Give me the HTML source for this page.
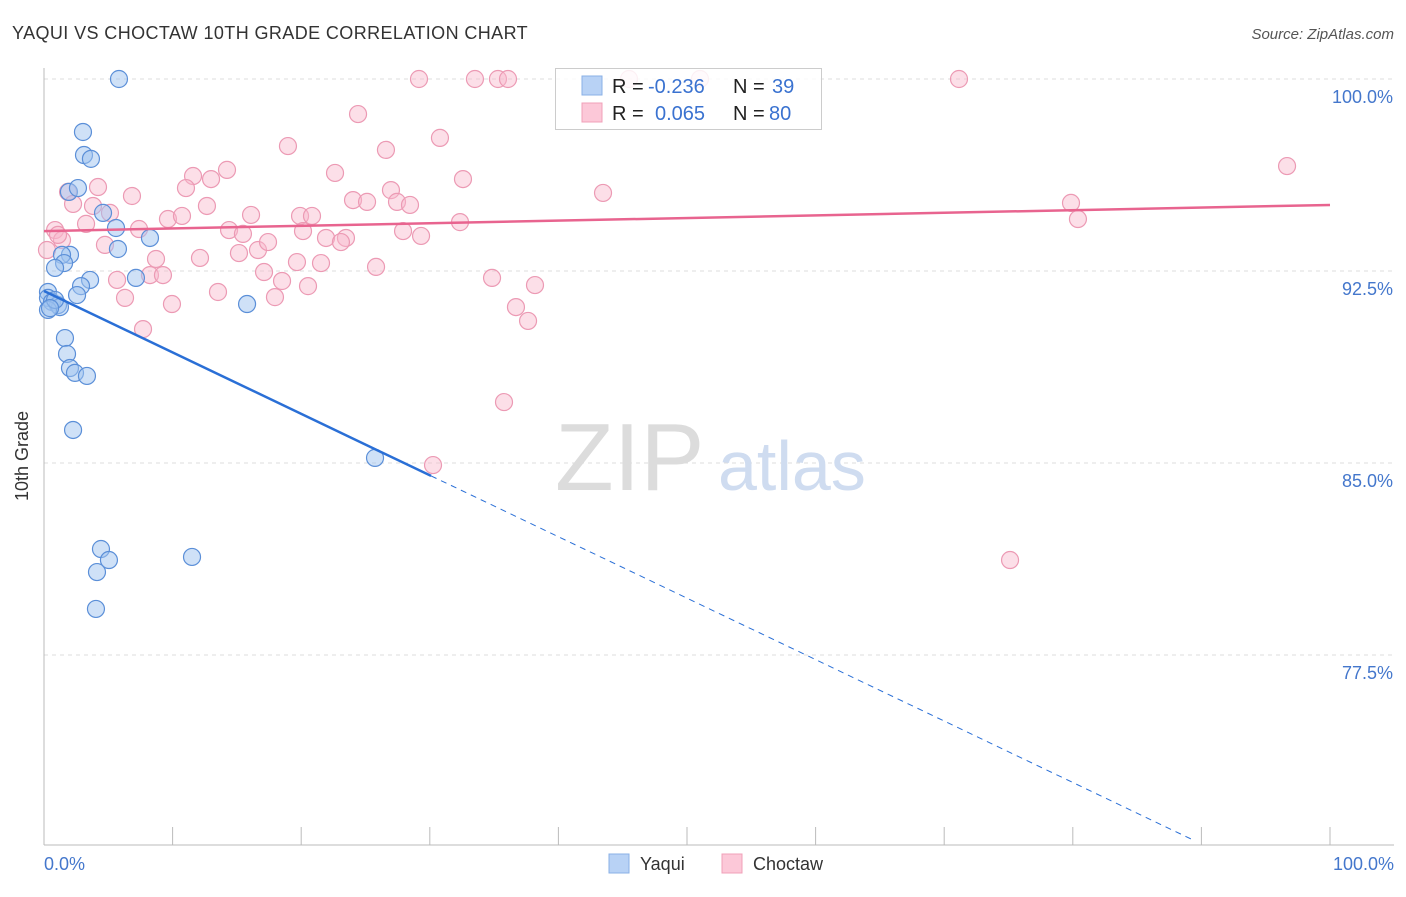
<!DOCTYPE html>
<html><head><meta charset="utf-8"><style>
body{margin:0;background:#fff;font-family:"Liberation Sans",sans-serif;}
svg text{font-family:"Liberation Sans",sans-serif;}
</style></head><body>
<svg id="chart" width="1406" height="892" xmlns="http://www.w3.org/2000/svg">
<text x="12" y="39" font-size="18" fill="#333" letter-spacing="0.4">YAQUI VS CHOCTAW 10TH GRADE CORRELATION CHART</text>
<text x="1394" y="39" font-size="15" fill="#555" font-style="italic" text-anchor="end">Source: ZipAtlas.com</text>
<g id="grid"></g>
<g><text x="555" y="490" font-size="96" font-family="Liberation Serif" fill="#dcdcdc">ZIP</text><text x="718" y="490" font-size="70" fill="#cfdcf0">atlas</text></g>
<line x1="44" y1="68" x2="44" y2="845" stroke="#bbb"/>
<line x1="44" y1="845" x2="1394" y2="845" stroke="#bbb"/>
<g id="xticks"></g>
<text x="28" y="456" font-size="18" fill="#333" text-anchor="middle" transform="rotate(-90 28 456)">10th Grade</text>
<text x="44" y="870" font-size="18" fill="#4477cc">0.0%</text>
<text x="1394" y="870" font-size="18" fill="#4477cc" text-anchor="end">100.0%</text>
<g id="pts"></g>
<g id="lines"></g>
<g>
<rect x="555.5" y="68.5" width="266" height="61" fill="rgba(255,255,255,0.85)" stroke="#ccc"/>
<rect x="582" y="76" width="20" height="19" fill="#b8d2f5" stroke="#8ab0e6"/>
<rect x="582" y="103" width="20" height="19" fill="#fcc8d8" stroke="#f0a0b8"/>
<text x="612" y="93" font-size="20" fill="#222">R =</text>
<text x="648" y="93" font-size="20" fill="#3a72d0">-0.236</text>
<text x="733" y="93" font-size="20" fill="#222">N =</text>
<text x="772" y="93" font-size="20" fill="#3a72d0">39</text>
<text x="612" y="120" font-size="20" fill="#222">R =</text>
<text x="655" y="120" font-size="20" fill="#3a72d0">0.065</text>
<text x="733" y="120" font-size="20" fill="#222">N =</text>
<text x="769" y="120" font-size="20" fill="#3a72d0">80</text>
</g>
<g>
<rect x="609" y="854" width="20" height="19" fill="#b8d2f5" stroke="#8ab0e6"/>
<text x="640" y="870" font-size="18" fill="#333">Yaqui</text>
<rect x="722" y="854" width="20" height="19" fill="#fcc8d8" stroke="#f0a0b8"/>
<text x="753" y="870" font-size="18" fill="#333">Choctaw</text>
</g>
</svg>
<script>
const yTicks=[100,92.5,85,77.5];
const yTickLabels=["100.0%","92.5%","85.0%","77.5%"];
const yaquiX=[5.83,3.03,3.11,3.65,1.94,2.64,4.59,5.60,8.24,5.75,2.02,1.40,1.56,0.86,3.58,2.88,7.15,2.57,0.31,0.31,0.62,1.09,1.24,0.31,0.86,15.79,1.63,1.79,2.02,2.41,3.34,2.26,25.74,4.43,5.05,4.12,11.51,4.04,0.47];
const yaquiY=[100,97.93,97.03,96.88,95.59,95.74,94.77,94.18,93.79,93.36,93.13,93.13,92.81,92.62,92.15,91.91,92.23,91.56,91.68,91.45,91.29,91.17,91.09,90.98,91.37,91.21,89.88,89.26,88.71,88.52,88.40,86.29,85.20,81.64,81.21,80.74,81.33,79.30,91.05];
const choctawX=[29.16,33.51,35.30,36.08,45.49,51.01,71.15,24.42,18.97,26.59,30.79,14.23,11.59,12.99,11.04,22.63,32.58,43.47,96.66,4.20,1.87,6.84,2.26,3.81,12.67,5.13,9.64,10.73,16.10,19.91,20.84,24.03,25.12,26.98,27.45,28.46,32.35,79.86,80.40,0.86,1.40,7.39,14.39,15.47,20.14,27.92,29.32,21.93,23.48,23.09,4.74,16.64,17.42,15.16,12.13,8.71,19.67,21.54,25.82,3.27,8.24,5.68,9.25,17.11,18.51,20.53,13.53,6.30,17.96,9.95,34.84,38.18,36.70,37.64,7.70,35.77,30.25,75.12,0.23,1.09];
const choctawY=[100,100,100,100,100,100,100,98.63,97.38,97.23,97.70,96.45,96.21,96.09,95.74,96.33,96.09,95.55,96.60,95.78,95.59,95.43,95.12,95.04,95.04,94.77,94.53,94.65,94.69,94.65,94.65,95.27,95.20,95.66,95.20,95.08,94.41,95.16,94.53,94.10,93.71,94.14,94.10,93.95,94.06,94.06,93.87,93.79,93.79,93.63,93.52,93.32,93.63,93.20,93.01,92.97,92.85,92.81,92.66,94.34,92.34,92.15,92.34,92.46,92.11,91.91,91.68,91.45,91.48,91.21,92.23,91.95,91.09,90.55,90.23,87.38,84.92,81.21,93.32,93.91];
const yaquiTrend=[91.72,-0.240];
const choctawTrend=[94.06,0.0102];
const NS="http://www.w3.org/2000/svg";
const sx=v=>44+v*12.86, sy=v=>79+(100-v)*25.6;
function mk(t,a,p){const e=document.createElementNS(NS,t);for(const k in a)e.setAttribute(k,a[k]);p.appendChild(e);return e;}
const grid=document.getElementById('grid');
yTicks.forEach((t,i)=>{
 const l=mk('line',{x1:44,x2:1394,y1:sy(t),y2:sy(t),stroke:'#ddd','stroke-dasharray':'4 4'},grid);
 
 
 const tx=mk('text',{x:1393,y:sy(t)+24,'font-size':18,fill:'#4477cc','text-anchor':'end'},grid);
 tx.textContent=yTickLabels[i];
 
 
});
const xt=document.getElementById('xticks');
for(let i=0;i<=10;i++){const l=mk('line',{x1:sx(i*10),x2:sx(i*10),y1:827,y2:845,stroke:'#bbb'},xt);
 
 }
const pts=document.getElementById('pts');
choctawX.forEach((x,i)=>{const c=mk('circle',{cx:sx(x),cy:sy(choctawY[i]),r:8.5,fill:'rgba(248,185,205,0.45)',stroke:'#ec9ab4','stroke-width':1.2},pts);
 
 });
yaquiX.forEach((x,i)=>{const c=mk('circle',{cx:sx(x),cy:sy(yaquiY[i]),r:8.5,fill:'rgba(160,195,240,0.5)',stroke:'#5b8fd8','stroke-width':1.2},pts);
 
 });
const ln=document.getElementById('lines');
const yt=x=>yaquiTrend[0]+yaquiTrend[1]*x, ct=x=>choctawTrend[0]+choctawTrend[1]*x;
let a=mk('line',{x1:sx(0),y1:sy(yt(0)),x2:sx(30.1),y2:sy(yt(30.1)),stroke:'#2a6fd6','stroke-width':2.5},ln);


let b=mk('line',{x1:sx(30.1),y1:sy(yt(30.1)),x2:sx(89.5),y2:sy(yt(89.5)),stroke:'#2a6fd6','stroke-width':1,'stroke-dasharray':'6 5'},ln);


let c=mk('line',{x1:sx(0),y1:sy(ct(0)),x2:sx(100),y2:sy(ct(100)),stroke:'#e8648f','stroke-width':2.5},ln);


</script>
</body></html>
